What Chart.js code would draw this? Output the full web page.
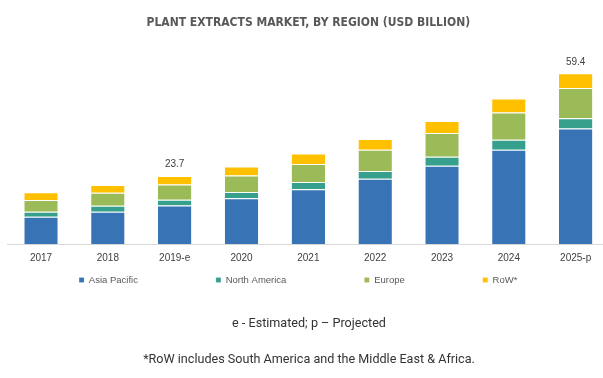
<!DOCTYPE html>
<html>
<head>
<meta charset="utf-8">
<script src="https://cdn.jsdelivr.net/npm/chart.js@4.4.1/dist/chart.umd.min.js"></script>
<style>
  html, body { margin: 0; padding: 0; background: #ffffff; overflow: hidden; }
  body { width: 603px; height: 378px; position: relative; }
  #wrap { position: absolute; left: 0; top: 0; width: 620px; height: 378px; }
  .note { position: absolute; left: 7.5px; width: 603px; text-align: center; line-height: 15px;
          font-family: Roboto, "Open Sans", sans-serif; font-size: 12.6px; color: #333333; white-space: nowrap; }
</style>
</head>
<body>
<div id="wrap"><canvas id="c" width="620" height="378"></canvas></div>
<div class="note" id="n1" style="top:314.5px;">e - Estimated; p – Projected</div>
<div class="note" id="n2" style="top:350.5px;">*RoW includes South America and the Middle East &amp; Africa.</div>
<script>
const categories = ['2017', '2018', '2019-e', '2020', '2021', '2022', '2023', '2024', '2025-p'];
const asiaPacific  = [9.6, 11.3, 13.5, 16.0, 19.1, 22.8, 27.3, 32.8, 40.2];
const northAmerica = [1.7, 2.1, 2.0, 2.2, 2.5, 2.7, 3.1, 3.5, 3.6];
const europe       = [4.1, 4.5, 5.3, 5.7, 6.3, 7.3, 8.3, 9.5, 10.5];
const row          = [2.7, 2.7, 2.9, 3.1, 3.6, 3.8, 4.1, 4.8, 5.1];
const totalLabels  = [null, null, '23.7', null, null, null, null, null, '59.4'];
const seriesNames  = ['Asia Pacific', 'North America', 'Europe', 'RoW*'];
const titleText    = 'PLANT EXTRACTS MARKET, BY REGION (USD BILLION)';

const colors = ['#3873b6', '#36a08c', '#9bbb59', '#ffc000'];

const totalLabelPlugin = {
  id: 'totalLabels',
  afterDatasetsDraw(chart) {
    const ctx = chart.ctx;
    const meta = chart.getDatasetMeta(3);
    const y = chart.scales.y;
    ctx.save();
    ctx.font = '10px "Liberation Sans", Arial, sans-serif';
    ctx.fillStyle = '#404040';
    ctx.textAlign = 'center';
    ctx.textBaseline = 'middle';
    totalLabels.forEach((t, i) => {
      if (!t) return;
      const total = parseFloat(t);
      const x = meta.data[i].x;
      ctx.fillText(t, x, y.getPixelForValue(total) - 11.5);
    });
    ctx.restore();
  }
};

const legendPlace = {
  id: 'legendPlace',
  afterLayout(chart) {
    const lg = chart.legend;
    if (!lg) return;
    const pad = lg.options.labels.padding;
    const fs = lg.options.labels.font.size;
    const dy = lg.top - (280 - pad - fs / 2);
    lg.top -= dy; lg.bottom -= dy;
    const dx = (lg.left + lg.right) / 2 - 298.2;
    lg.left -= dx; lg.right -= dx;
  }
};

new Chart(document.getElementById('c'), {
  type: 'bar',
  data: {
    labels: categories,
    datasets: [
      { label: seriesNames[0], data: asiaPacific,  backgroundColor: colors[0] },
      { label: seriesNames[1], data: northAmerica, backgroundColor: colors[1] },
      { label: seriesNames[2], data: europe,       backgroundColor: colors[2] },
      { label: seriesNames[3], data: row,          backgroundColor: colors[3] }
    ].map(d => Object.assign(d, {
      borderColor: 'rgba(255,255,255,0.7)',
      borderWidth: { top: 1, left: 0, right: 0, bottom: 0 },
      borderSkipped: 'start',
      categoryPercentage: 0.5,
      barPercentage: 1.0
    }))
  },
  options: {
    responsive: false,
    animation: false,
    devicePixelRatio: 1,
    layout: { padding: { left: 7.6, right: 10.9, top: 0, bottom: 16.2 } },
    scales: {
      x: {
        stacked: true,
        grid: { display: false, drawTicks: false },
        border: { display: true, color: '#d9d9d9', width: 1 },
        ticks: { padding: 8, color: '#404040', font: { family: '"Liberation Sans", Arial, sans-serif', size: 10 } },
        afterFit(s) { s.height = 20; }
      },
      y: {
        stacked: true,
        display: false,
        min: 0,
        max: 62
      }
    },
    plugins: {
      title: {
        display: true,
        text: titleText,
        color: '#595959',
        font: { family: '"Liberation Sans Narrow", "Arial Narrow", "DejaVu Sans Condensed", sans-serif', size: 12, weight: 'bold' },
        padding: { top: 16.1, bottom: 35.3 }
      },
      legend: {
        display: true,
        position: 'bottom',
        labels: {
          boxWidth: 5,
          boxHeight: 5,
          padding: 78,
          color: '#595959',
          font: { family: '"Liberation Sans", Arial, sans-serif', size: 9.5 }
        }
      },
      tooltip: { enabled: false }
    }
  },
  plugins: [totalLabelPlugin, legendPlace]
});
</script>
</body>
</html>
